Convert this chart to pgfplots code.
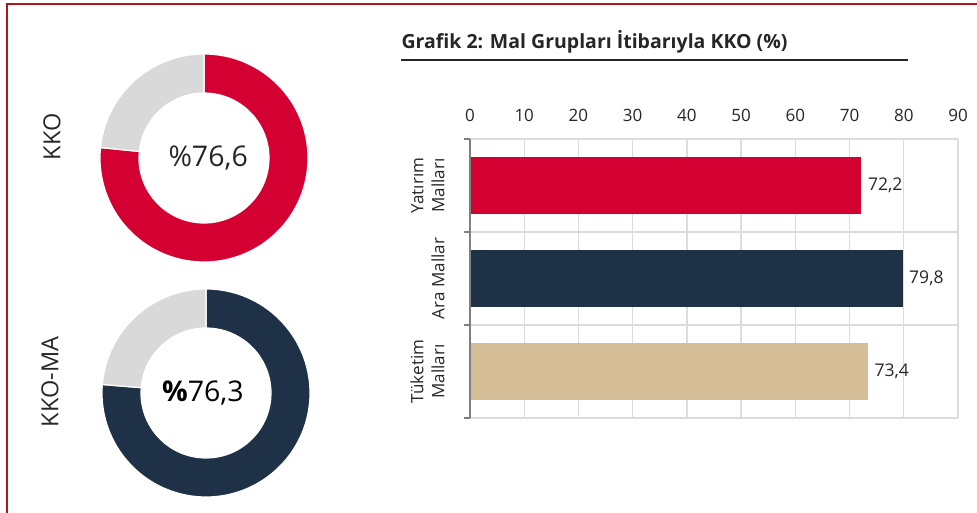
\documentclass[border=0pt]{standalone}
\usepackage{pgfplots}
\pgfplotsset{compat=1.18}
\usepackage{fontspec}
\setmainfont{Open Sans}
\definecolor{kred}{HTML}{D50032}
\definecolor{knavy}{HTML}{1F3146}
\definecolor{ktan}{HTML}{D5BD98}
\definecolor{lgray}{HTML}{D9D9D9}
\definecolor{gridcol}{HTML}{DCDCDC}
\definecolor{axisgray}{HTML}{7F7F7F}
\definecolor{bordercol}{HTML}{B0181E}
\definecolor{txt}{HTML}{262626}
\begin{document}
\begin{tikzpicture}
\path[use as bounding box] (0pt,0pt) rectangle (977pt,513pt);
\draw[bordercol, line width=2pt] (6.5pt,0pt) -- (6.5pt,509pt) -- (977pt,509pt);

% side labels
\node[rotate=90, text=txt, font=\fontsize{23.5}{28}\selectfont] at (52pt,376pt) {KKO};
\node[rotate=90, text=txt, font=\fontsize{23.5}{28}\selectfont] at (50pt,131pt) {KKO-MA};

% donut 1
\begin{axis}[at={(204pt,355pt)}, anchor=center, width=210pt, height=210pt, scale only axis,
  hide axis, xmin=-1, xmax=1, ymin=-1, ymax=1, clip=false]
\pgfmathsetmacro{\ang}{90-3.6*76.6}
\filldraw[kred, draw=white, line width=1.2pt, shift={(axis cs:0,0)}]
  (90:104pt) arc[start angle=90, end angle=\ang, radius=104pt]
  -- (\ang:65pt) arc[start angle=\ang, end angle=90, radius=65pt] -- cycle;
\filldraw[lgray, draw=white, line width=1.2pt, shift={(axis cs:0,0)}]
  (\ang:104pt) arc[start angle=\ang, end angle=-270, radius=104pt]
  -- (-270:65pt) arc[start angle=-270, end angle=\ang, radius=65pt] -- cycle;
\node[text=txt, font=\fontsize{28.5}{32}\selectfont] at (axis cs:0.04,0) {\%76,6};
\end{axis}

% donut 2
\begin{axis}[at={(206pt,120pt)}, anchor=center, width=210pt, height=210pt, scale only axis,
  hide axis, xmin=-1, xmax=1, ymin=-1, ymax=1, clip=false]
\pgfmathsetmacro{\angb}{90-3.6*76.3}
\filldraw[knavy, draw=white, line width=1.2pt, shift={(axis cs:0,0)}]
  (90:104pt) arc[start angle=90, end angle=\angb, radius=104pt]
  -- (\angb:65pt) arc[start angle=\angb, end angle=90, radius=65pt] -- cycle;
\filldraw[lgray, draw=white, line width=1.2pt, shift={(axis cs:0,0)}]
  (\angb:104pt) arc[start angle=\angb, end angle=-270, radius=104pt]
  -- (-270:65pt) arc[start angle=-270, end angle=\angb, radius=65pt] -- cycle;
\node[text=black, font=\fontsize{28.5}{32}\selectfont] at (axis cs:-0.03,0) {\textbf{\%}76,3};
\end{axis}

% title
\node[anchor=west, text=txt, font=\bfseries\fontsize{19.5}{23}\selectfont] at (398pt,471pt) {Grafik 2: Mal Grupları İtibarıyla KKO (\%)};
\draw[txt, line width=1.3pt] (401pt,453pt) -- (908pt,453pt);

% bar chart
\begin{axis}[at={(470pt,95pt)}, anchor=south west, width=488pt, height=279pt, scale only axis,
  xmin=0, xmax=90, ymin=-0.5, ymax=2.5,
  xtick={0,10,...,90}, xticklabel pos=upper,
  xmajorgrids, major grid style={gridcol, line width=1.3pt},
  ytick={0,1,2}, yticklabels={{Tüketim\\Malları},{Ara Mallar},{Yatırım\\Malları}},
  minor ytick={-0.5,0.5,1.5,2.5}, yminorgrids, minor grid style={gridcol, line width=1.3pt},
  major tick length=0pt, minor tick length=6pt, tick align=outside,
  ytick pos=left, xtick pos=upper,
  minor tick style={axisgray, line width=1.3pt},
  axis line style={draw=none},
  /pgf/number format/assume math mode=true,
  xticklabel style={font=\fontsize{17}{20}\selectfont, text=txt, yshift=13.5pt},
  yticklabel style={font=\fontsize{17}{21}\selectfont, text=txt, rotate=90, anchor=south, align=center},
  yticklabel shift=22pt,
  xbar, bar width=57pt, bar shift=0pt,
  nodes near coords={\pgfmathprintnumber[use comma,fixed,fixed zerofill,precision=1,assume math mode=true]{\pgfplotspointmeta}},
  point meta=x,
  every node near coord/.append style={anchor=west, xshift=3pt, text=txt, font=\fontsize{17.5}{20}\selectfont},
  clip=false]
\addplot[fill=kred, draw=none] coordinates {(72.2,2)};
\addplot[fill=knavy, draw=none] coordinates {(79.8,1)};
\addplot[fill=ktan, draw=none] coordinates {(73.4,0)};
\draw[axisgray, line width=1.5pt] (rel axis cs:0,0) -- (rel axis cs:0,1);
\end{axis}
\end{tikzpicture}
\end{document}
